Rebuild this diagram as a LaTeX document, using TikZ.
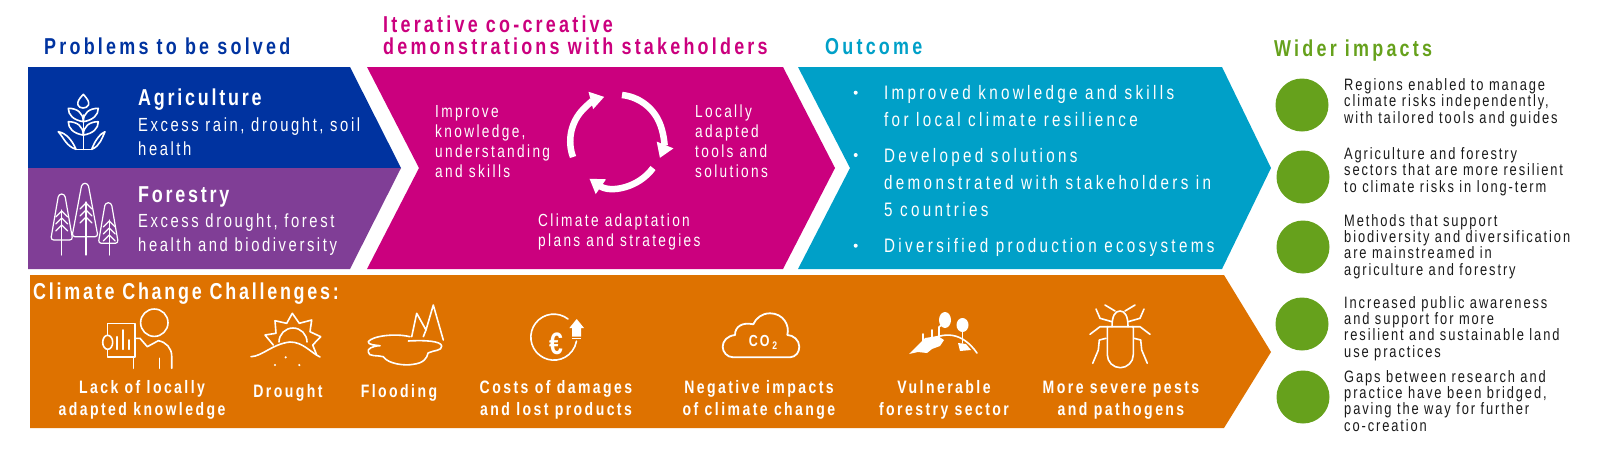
\documentclass[tikz,border=0pt]{standalone}
\usepackage{fontspec}
\usetikzlibrary{arrows.meta, positioning}
\setmainfont[FakeStretch=0.8]{Liberation Sans}
\newfontfamily\fHead[FakeStretch=0.78,LetterSpace=14]{Liberation Sans}
\newfontfamily\fTitle[FakeStretch=0.78,LetterSpace=12]{Liberation Sans}
\newfontfamily\fBody[FakeStretch=0.78,LetterSpace=13.5]{Liberation Sans}
\newfontfamily\fNote[FakeStretch=0.78,LetterSpace=11.5]{Liberation Sans}
\newfontfamily\fWide[FakeStretch=0.78,LetterSpace=17]{Liberation Sans}
\definecolor{c_blue}{HTML}{0033A0}
\definecolor{c_purple}{HTML}{803E96}
\definecolor{c_magenta}{HTML}{CB007E}
\definecolor{c_cyan}{HTML}{00A0C8}
\definecolor{c_orange}{HTML}{DE7200}
\definecolor{c_green}{HTML}{66A11C}
\definecolor{c_ink}{HTML}{1A1A1A}
\begin{document}
\begin{tikzpicture}[
    x=1pt, y=-1pt,
    head_text/.style={anchor=base west, inner sep=0pt, align=left, font=\fHead\bfseries\fontsize{23}{22}\selectfont},
    title_text/.style={anchor=base west, inner sep=0pt, text=white, font=\fTitle\bfseries\fontsize{23}{22}\selectfont},
    body_text/.style={anchor=base west, inner sep=0pt, align=left, text=white, font=\fBody\fontsize{19}{24}\selectfont},
    loop_text/.style={anchor=base west, inner sep=0pt, align=left, text=white, font=\fBody\fontsize{17.5}{20}\selectfont},
    out_text/.style={anchor=base west, inner sep=0pt, align=left, text=white, font=\fWide\fontsize{19.5}{27}\selectfont},
    chal_text/.style={anchor=base, inner sep=0pt, align=center, text=white, font=\fBody\bfseries\fontsize{18}{22}\selectfont},
    wide_text/.style={anchor=base west, inner sep=0pt, align=left, text=c_ink, font=\fNote\fontsize{16.5}{16.3}\selectfont},
    dot/.style={circle, fill=c_green, inner sep=0pt, minimum size=53pt},
    bullet/.style={circle, fill=white, inner sep=0pt, minimum size=4pt},
    icon/.style={draw=white, line width=1.6pt, line join=round, line cap=round},
    turn/.style={draw=white, line width=6.5pt, -{Triangle[width=17pt,length=14pt]}}
  ]
  \useasboundingbox (0,0) rectangle (1600,451);

  % Banners
  \fill [c_blue] (28,67) -- (350,67) -- (401,168) -- (28,168) -- cycle;
  \fill [c_purple] (28,168) -- (401,168) -- (350,269) -- (28,269) -- cycle;
  \fill [c_magenta] (367,67) -- (783,67) -- (835,168) -- (783,269) -- (367,269) -- (419,168) -- cycle;
  \fill [c_cyan] (798,67) -- (1222,67) -- (1271,168) -- (1222,269) -- (798,269) -- (850,168) -- cycle;
  \fill [c_orange] (30,275) -- (1224,275) -- (1271,352) -- (1224,428) -- (30,428) -- cycle;

  % Headings
  \node [head_text, text=c_blue] (H_problems) at (44,54) {Problems to be solved};
  \node [head_text, text=c_magenta] (H_demo) at (383,54) {Iterative co-creative\\demonstrations with stakeholders};
  \node [head_text, text=c_cyan] (H_outcome) at (825,54) {Outcome};
  \node [head_text, text=c_green] (H_impacts) at (1274,56) {Wider impacts};

  % Left column
  \node [title_text] (T_agri) at (138,105) {Agriculture};
  \node [body_text] (B_agri) at (138,155) {Excess rain, drought, soil\\health};
  \node [title_text] (T_forest) at (138,202) {Forestry};
  \node [body_text] (B_forest) at (138,251) {Excess drought, forest\\health and biodiversity};

  % Wheat
  \draw [icon] (83.3,115) -- (83.3,149.3) (76,149.3) -- (91.7,149.3);
  \draw [icon] (83.3,94.3) .. controls (79,99) and (77,102) .. (78,105) .. controls (79,109) and (87,109) .. (88.5,105) .. controls (89.5,102) and (87.5,99) .. (83.3,94.3);
  \foreach \s/\yy in {-1/0,1/0,-1/13.4,1/13.4} {
    \draw [icon] (83.3,121.7+\yy) .. controls (83.3+\s*10,120+\yy) and (83.3+\s*15,115+\yy) .. (83.3+\s*15,108.3+\yy)
      .. controls (83.3+\s*6,108.3+\yy) and (83.3,113+\yy) .. (83.3,121.7+\yy);
  }
  \draw [icon] (76,149.3) .. controls (72,140) and (66,133) .. (58.3,131.7) .. controls (64,138) and (66,146) .. (76,149.3);
  \draw [icon] (91.7,149.3) .. controls (95,140) and (101,133) .. (105,131.7) .. controls (102,138) and (100,146) .. (91.7,149.3);

  % Trees
  \foreach \tx/\ty/\bx/\hw/\by/\tr in {61.7/194/61.7/11/240/210, 85/183.3/86/13/236.7/202, 108.3/202.7/109.3/10/243.3/220} {
    \draw [icon, line width=1.2pt, rounded corners=3pt] (\tx-3,\ty) -- (\tx+3,\ty) -- (\tx+\hw,\by) -- (\tx-\hw,\by) -- cycle;
    \draw [icon, line width=1.2pt] (\bx,\tr) -- (\bx,255);
    \foreach \k in {0,7,14} {
      \draw [icon, line width=1.2pt] (\bx-6,\tr+7+\k) -- (\bx,\tr+1+\k) -- (\bx+6,\tr+7+\k);
    }
  }

  % Iteration
  \node [loop_text] (L_improve) at (435,177) {Improve\\knowledge,\\understanding\\and skills};
  \node [loop_text] (L_tools) at (695,177) {Locally\\adapted\\tools and\\solutions};
  \node [loop_text] (L_plans) at (538,246) {Climate adaptation\\plans and strategies};
  \coordinate (C_a) at (573,157);
  \coordinate (C_b) at (622,95);
  \coordinate (C_c) at (653,168);
  \path [turn] (C_a) arc [start angle=200, end angle=105, radius=46pt];
  \path [turn] (C_b) arc [start angle=84, end angle=-22, radius=46pt];
  \path [turn] (C_c) arc [start angle=-36, end angle=-125, radius=46pt];

  % Outcomes
  \node [bullet] (P_a) at (855.7,92.7) {};
  \node [bullet] (P_b) at (855.7,155) {};
  \node [bullet] (P_c) at (855.7,245.7) {};
  \node [out_text] (O_a) at (884,126.7) {Improved knowledge and skills\\for local climate resilience};
  \node [out_text] (O_b) at (884,216) {Developed solutions\\demonstrated with stakeholders in\\5 countries};
  \node [out_text] (O_c) at (884,252.7) {Diversified production ecosystems};

  % Challenges
  \node [title_text] (T_climate) at (33,299) {Climate Change Challenges:};
  \node [chal_text] (C_lack) at (142,415) {Lack of locally\\adapted knowledge};
  \node [chal_text] (C_drought) at (288,397) {Drought};
  \node [chal_text] (C_flood) at (399,397) {Flooding};
  \node [chal_text] (C_costs) at (556,415) {Costs of damages\\and lost products};
  \node [chal_text] (C_neg) at (759,415) {Negative impacts\\of climate change};
  \node [chal_text] (C_vuln) at (944,415) {Vulnerable\\forestry sector};
  \node [chal_text] (C_pests) at (1121,415) {More severe pests\\and pathogens};

  % Person with board
  \draw [icon] (154.3,322.7) circle [radius=13.7pt];
  \draw [icon] (107.3,323.3) rectangle (135,356.7);
  \draw [icon, fill=c_orange] (107.7,342.3) ellipse [x radius=5pt, y radius=7pt];
  \draw [icon] (116.7,336.7) -- (116.7,349.3) (122.7,330) -- (122.7,349.3) (129,340) -- (129,349.3);
  \draw [icon] (135,338.3) -- (140,338.3) -- (147.3,346.7) -- (158.3,340.7) .. controls (166,342) and (171.7,348) .. (171.7,356) -- (171.7,368.3);
  \draw [icon] (159.3,358.3) -- (159.3,368.3) (133.3,358.3) -- (133.3,368.3);

  % Sun
  \draw [icon] (273.3,345) -- (265,335) -- (276,333.3) -- (275,320.7) -- (286.7,323.3) -- (292.3,313.3) -- (299.3,323.3) -- (311.7,320) -- (310,331.7) -- (320.7,336.7) -- (312.7,345) -- (316.7,355);
  \draw [icon] (251,356.7) .. controls (263,356) and (272,344) .. (290,342) .. controls (303,342) and (310,352) .. (320,357);
  \draw [icon] (279,342) arc [start angle=180, end angle=0, radius=14pt];
  \fill [white] (285.7,357.3) circle [radius=1.2pt] (275,365) circle [radius=1.2pt] (299.3,365) circle [radius=1.2pt];

  % Flood
  \draw [icon] (410,336.7) .. controls (395,333) and (372,336) .. (368.3,341.7) .. controls (368,345) and (375,345) .. (380,345.7)
    .. controls (372,346) and (367,349) .. (368.3,352) .. controls (368,357) and (378,355) .. (383.3,356.7)
    .. controls (388,364) and (405,366) .. (413.3,364.3) .. controls (424,363) and (427,358) .. (428,353)
    .. controls (434,350) and (442,351) .. (441.7,346) .. controls (441,341) and (425,340) .. (408.3,341);
  \draw [icon] (411.7,336.7) -- (416.7,313.3) -- (426,330) -- (433.3,305) -- (443.3,340) (426,330) -- (423.3,336.7);

  % Costs
  \draw [icon] (568,319) arc [start angle=52, end angle=350, radius=23pt];
  \fill [white] (576.7,319) -- (584,328) -- (581,328) -- (581,336.7) -- (572,336.7) -- (572,328) -- (569.4,328) -- cycle;
  \draw [icon, line cap=butt] (572,338.5) -- (581,338.5);
  \node [inner sep=0pt, text=white, font=\bfseries\fontsize{31}{31}\selectfont] (N_euro) at (556,344) {€};

  % Cloud
  \draw [icon, line width=1.8pt] (733.3,357.3) -- (790,357.3) .. controls (796,357) and (799.3,352) .. (799.3,346.7) .. controls (799.3,340) and (793,335) .. (787.3,335)
    .. controls (790,325) and (783,313.3) .. (770,313.3) .. controls (762,313.3) and (756,318) .. (753.3,324.3) .. controls (743,322) and (735,326) .. (735,335)
    .. controls (727,336) and (722.7,341) .. (722.7,346.7) .. controls (722.7,352) and (727,357.3) .. (733.3,357.3);
  \node [inner sep=0pt, text=white, font=\fTitle\bfseries\fontsize{16}{16}\selectfont] (N_co) at (763,342) {CO\,\raisebox{-3pt}{\fontsize{11}{11}\selectfont 2}};

  % Forest
  \draw [icon] (925,342) .. controls (945,331) and (962,332) .. (977,353);
  \fill [white] (909,354) -- (918,345) -- (925,338) -- (938,336) -- (944,340) -- (940,346) -- (932,349) -- (927,353) -- (918,352) -- cycle;
  \draw [icon] (923,342) -- (923,334) (932,338) -- (932,330) (939,336) -- (939,327) -- (944,323);
  \fill [white] (945,320) ellipse [x radius=6pt, y radius=8pt] (962.5,325) ellipse [x radius=6pt, y radius=7pt];
  \draw [icon] (962.5,325) -- (962.5,343);
  \fill [white] (958,343) -- (966,344) -- (971,350) -- (960,351) -- cycle;

  % Beetle
  \draw [icon] (1107.3,326.7) -- (1133.3,326.7) (1107.3,326.7) -- (1107.3,354.7) arc [start angle=180, end angle=360, radius=13pt] -- (1133.3,326.7);
  \draw [icon] (1112,326.7) .. controls (1112,316) and (1115,311) .. (1120,311) .. controls (1125,311) and (1128,316) .. (1128,326.7);
  \foreach \s in {-1,1} {
    \draw [icon] (1120+\s*8,321.7) -- (1120+\s*20,318.3) -- (1120+\s*24,309);
    \draw [icon] (1120+\s*5,311) -- (1120+\s*15,305);
    \draw [icon] (1120+\s*12,326.7) -- (1120+\s*20,326.7) -- (1120+\s*30,334.3);
    \draw [icon] (1120+\s*14,338.3) -- (1120+\s*20.7,340) -- (1120+\s*21.7,350) -- (1120+\s*27.3,363.3);
  }

  % Impacts
  \node [dot] (D_a) at (1302,105) {};
  \node [dot] (D_b) at (1303,177) {};
  \node [dot] (D_c) at (1303,247) {};
  \node [dot] (D_d) at (1302,324) {};
  \node [dot] (D_e) at (1303,397) {};
  \node [wide_text] (I_a) at (1344,123) {Regions enabled to manage\\climate risks independently,\\with tailored tools and guides};
  \node [wide_text] (I_b) at (1344,192) {Agriculture and forestry\\sectors that are more resilient\\to climate risks in long-term};
  \node [wide_text] (I_c) at (1344,275) {Methods that support\\biodiversity and diversification\\are mainstreamed in\\agriculture and forestry};
  \node [wide_text] (I_d) at (1344,357) {Increased public awareness\\and support for more\\resilient and sustainable land\\use practices};
  \node [wide_text] (I_e) at (1344,431) {Gaps between research and\\practice have been bridged,\\paving the way for further\\co-creation};
\end{tikzpicture}
\end{document}
